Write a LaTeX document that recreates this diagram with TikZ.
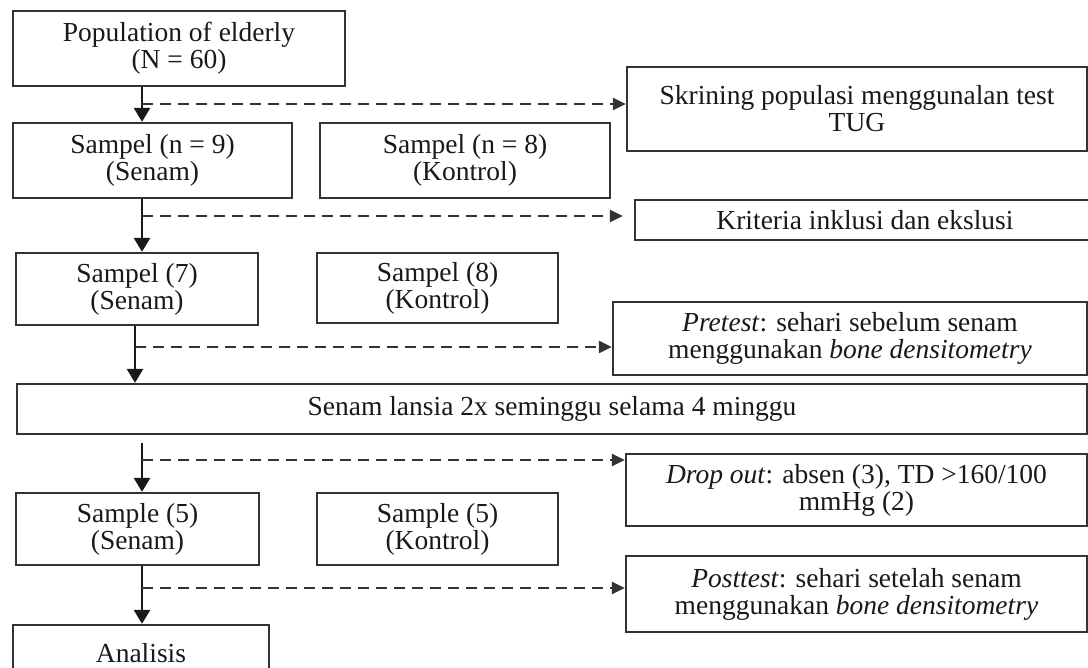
\documentclass[tikz,border=0pt]{standalone}
\usepackage{fontspec}
\setmainfont{Liberation Serif}
\usetikzlibrary{arrows.meta}
\begin{document}
\begin{tikzpicture}[x=1pt,y=-1pt,
  box/.style={draw=black!80, line width=2.3pt, inner sep=0pt, align=center,
    font=\fontsize{27.5}{27}\selectfont, text=black!90},
  mainarr/.style={draw=black!90, line width=2.8pt, -{Triangle[length=14pt,width=16pt]}},
  dasharr/.style={draw=black!80, line width=2.6pt, dash pattern=on 11pt off 7pt,
    -{Triangle[length=13pt,width=12pt]}}]
\useasboundingbox (0,0) rectangle (1088,668);
\clip (0,0) rectangle (1088,668);
\fill[white] (0,0) rectangle (1088,668);
\node[box, minimum width=332pt, minimum height=75pt] (pop) at (179,48.5) {Population of elderly\\(N = 60)};
\node[box, minimum width=279pt, minimum height=75pt] (s9) at (152.5,160.5) {Sampel (n = 9)\\(Senam)};
\node[box, minimum width=290pt, minimum height=75pt] (s8k) at (465,160.5) {Sampel (n = 8)\\(Kontrol)};
\node[box, minimum width=460pt, minimum height=84pt] (skr) at (857,109) {Skrining populasi menggunalan test\\TUG};
\node[box, minimum width=460pt, minimum height=40pt] (krit) at (865,220) {Kriteria inklusi dan ekslusi};
\node[box, minimum width=242pt, minimum height=72pt] (s7) at (137,289) {Sampel (7)\\(Senam)};
\node[box, minimum width=241pt, minimum height=70pt] (s8) at (437.5,288) {Sampel (8)\\(Kontrol)};
\node[box, minimum width=474pt, minimum height=73pt] (pre) at (850,338.5) {\textit{Pretest}: sehari sebelum senam\\menggunakan \textit{bone densitometry}};
\node[box, minimum width=1070pt, minimum height=50pt] (senam) at (552,409) {Senam lansia 2x seminggu selama 4 minggu};
\node[box, minimum width=461pt, minimum height=72pt] (drop) at (856.5,490) {\textit{Drop out}: absen (3), TD >160/100\\mmHg (2)};
\node[box, minimum width=243pt, minimum height=72pt] (s5) at (137.5,529) {Sample (5)\\(Senam)};
\node[box, minimum width=241pt, minimum height=72pt] (s5k) at (437.5,529) {Sample (5)\\(Kontrol)};
\node[box, minimum width=461pt, minimum height=76pt] (post) at (856.5,594) {\textit{Posttest}: sehari setelah senam\\menggunakan \textit{bone densitometry}};
\node[box, minimum width=256pt, minimum height=56pt] (anal) at (141,653) {Analisis};
\coordinate (ax) at (142,0);
\coordinate (bx) at (135,0);
\draw[mainarr] (ax |- pop.south) -- (ax |- s9.north);
\draw[mainarr] (ax |- s9.south) -- (ax |- s7.north);
\draw[mainarr] (bx |- s7.south) -- (bx |- senam.north);
\draw[mainarr, shorten <=8pt] (ax |- senam.south) -- (ax |- s5.north);
\draw[mainarr] (ax |- s5.south) -- (ax |- anal.north);
\coordinate (d1) at (142,104);
\coordinate (d2) at (142,216);
\coordinate (d3) at (135,347);
\coordinate (d4) at (142,460);
\coordinate (d5) at (142,588);
\draw[dasharr] (d1) -- (d1 -| skr.west);
\draw[dasharr, shorten >=11pt] (d2) -- (d2 -| krit.west);
\draw[dasharr] (d3) -- (d3 -| pre.west);
\draw[dasharr] (d4) -- (d4 -| drop.west);
\draw[dasharr] (d5) -- (d5 -| post.west);
\end{tikzpicture}
\end{document}
